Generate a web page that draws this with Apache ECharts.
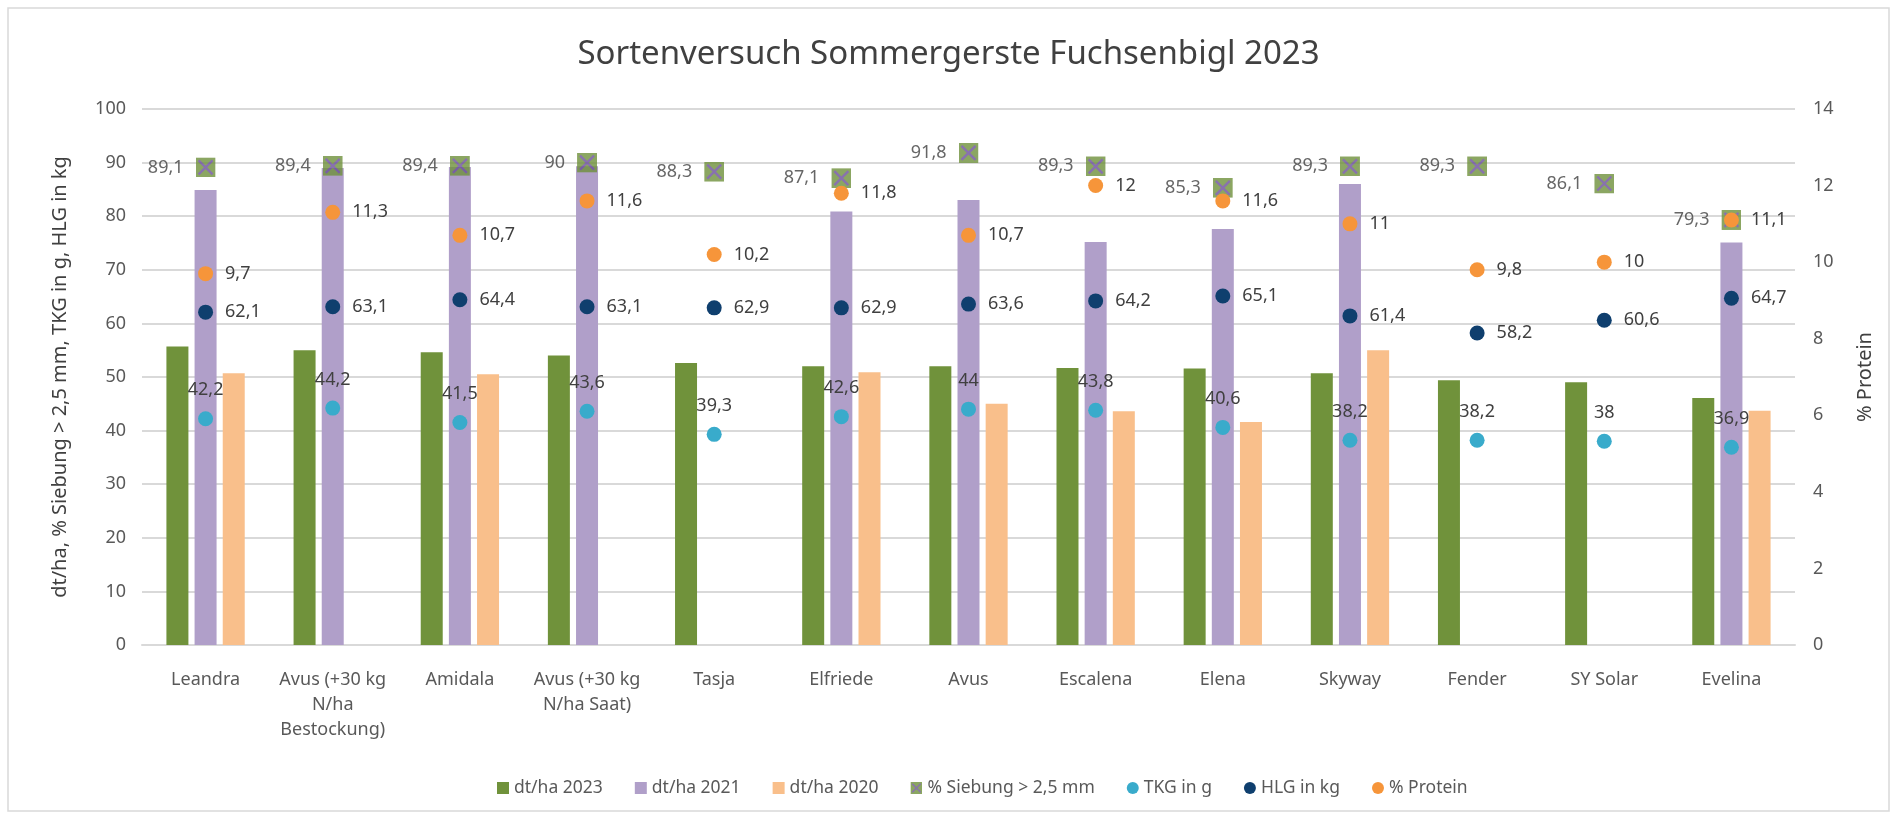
<!DOCTYPE html>
<html>
<head>
    <meta charset="utf-8">
    <title>Sortenversuch Sommergerste Fuchsenbigl 2023</title>
    <script src="https://cdn.jsdelivr.net/npm/echarts@6/dist/echarts.min.js"></script>
    <style>
        html, body { margin: 0; padding: 0; background: #fff; }
        #chart { width: 1897px; height: 819px; }
    </style>
</head>
<body>
<div id="chart"></div>
<script>
    // Sorten
    var sorten = ['Leandra', 'Avus (+30 kg\nN/ha\nBestockung)', 'Amidala', 'Avus (+30 kg\nN/ha Saat)', 'Tasja',
        'Elfriede', 'Avus', 'Escalena', 'Elena', 'Skyway', 'Fender', 'SY Solar', 'Evelina'];
    // Ertrag dt/ha
    var ertrag2023 = [55.7, 55.0, 54.6, 54.0, 52.6, 52.0, 52.0, 51.7, 51.6, 50.7, 49.4, 49.0, 46.1];
    var ertrag2021 = [84.9, 89.0, 89.2, 89.3, null, 80.9, 83.0, 75.2, 77.6, 86.0, null, null, 75.1];
    var ertrag2020 = [50.7, null, 50.5, null, null, 50.9, 45.0, 43.6, 41.6, 55.0, null, null, 43.7];
    // Qualitaet
    var siebung = [89.1, 89.4, 89.4, 90, 88.3, 87.1, 91.8, 89.3, 85.3, 89.3, 89.3, 86.1, 79.3];
    var tkg = [42.2, 44.2, 41.5, 43.6, 39.3, 42.6, 44, 43.8, 40.6, 38.2, 38.2, 38, 36.9];
    var hlg = [62.1, 63.1, 64.4, 63.1, 62.9, 62.9, 63.6, 64.2, 65.1, 61.4, 58.2, 60.6, 64.7];
    var protein = [9.7, 11.3, 10.7, 11.6, 10.2, 11.8, 10.7, 12, 11.6, 11, 9.8, 10, 11.1];

    var FONT = '"Noto Sans", "Open Sans", sans-serif';
    var komma = function (p) {
        return String(p.value).replace('.', ',');
    };
    var labelStyle = function (pos) {
        return {
            show: true, position: pos, distance: 12, formatter: komma,
            color: '#404040', fontSize: 18, fontFamily: FONT
        };
    };

    // Marker: gruenes Quadrat mit lila Kreuz
    var svg = '<svg xmlns="http://www.w3.org/2000/svg" width="20" height="20">' +
        '<rect width="20" height="20" fill="#6f913b"/>' +
        '<path d="M3 3L17 17M17 3L3 17" stroke="#6b4f9a" stroke-width="2.4"/></svg>';
    var siebSymbol = 'image://data:image/svg+xml;charset=utf-8,' + encodeURIComponent(svg);

    var myChart = echarts.init(document.getElementById('chart'));
    var option = {
        backgroundColor: '#fff',
        animation: false,
        textStyle: { fontFamily: FONT },
        title: {
            text: 'Sortenversuch Sommergerste Fuchsenbigl 2023',
            left: 'center',
            top: 33,
            textStyle: { color: '#404040', fontSize: 33, fontWeight: 'normal', fontFamily: FONT }
        },
        graphic: [{
            type: 'rect',
            shape: { x: 8, y: 8, width: 1881, height: 803 },
            style: { fill: 'none', stroke: '#d9d9d9', lineWidth: 1.5 },
            silent: true
        }],
        legend: {
            left: 492,
            top: 774,
            itemWidth: 12,
            itemHeight: 12,
            itemGap: 32,
            textStyle: { color: '#595959', fontSize: 17.5, fontFamily: FONT },
            data: [
                { name: 'dt/ha 2023', icon: 'rect' },
                { name: 'dt/ha 2021', icon: 'rect' },
                { name: 'dt/ha 2020', icon: 'rect' },
                { name: '% Siebung > 2,5 mm', icon: siebSymbol },
                { name: 'TKG in g', icon: 'circle' },
                { name: 'HLG in kg', icon: 'circle' },
                { name: '% Protein', icon: 'circle' }
            ]
        },
        grid: { left: 142, right: 102, top: 109, bottom: 174 },
        xAxis: {
            type: 'category',
            data: sorten,
            axisTick: { show: false },
            axisLine: { lineStyle: { color: '#d9d9d9', width: 2 } },
            axisLabel: {
                color: '#595959', fontSize: 18, lineHeight: 25, margin: 22,
                interval: 0, fontFamily: FONT
            }
        },
        yAxis: [{
            type: 'value',
            min: 0, max: 100, interval: 10,
            name: 'dt/ha, % Siebung > 2,5 mm, TKG in g, HLG in kg',
            nameLocation: 'middle',
            nameGap: 72,
            nameTextStyle: { color: '#404040', fontSize: 20, fontFamily: FONT },
            axisLabel: { color: '#595959', fontSize: 18, margin: 16 },
            axisLine: { show: false },
            axisTick: { show: false },
            splitLine: { lineStyle: { color: '#d9d9d9', width: 2 } }
        }, {
            type: 'value',
            min: 0, max: 14, interval: 2,
            name: '% Protein',
            nameLocation: 'middle',
            nameRotate: 90,
            nameGap: 60,
            nameTextStyle: { color: '#404040', fontSize: 20, fontFamily: FONT },
            axisLabel: { color: '#595959', fontSize: 18, margin: 18 },
            axisLine: { show: false },
            axisTick: { show: false },
            splitLine: { show: false }
        }],
        series: [{
            name: 'dt/ha 2023', type: 'bar', data: ertrag2023,
            barWidth: 22, barGap: '28%',
            itemStyle: { color: '#70923b' }
        }, {
            name: 'dt/ha 2021', type: 'bar', data: ertrag2021,
            barWidth: 22, barGap: '28%',
            itemStyle: { color: '#b09fc9' }
        }, {
            name: 'dt/ha 2020', type: 'bar', data: ertrag2020,
            barWidth: 22, barGap: '28%',
            itemStyle: { color: '#f9bf8b' }
        }, {
            name: '% Siebung > 2,5 mm', type: 'scatter', data: siebung,
            symbol: siebSymbol, symbolSize: 20,
            label: labelStyle('left'), z: 3
        }, {
            name: 'TKG in g', type: 'scatter', data: tkg,
            symbolSize: 15, itemStyle: { color: '#39abcb', opacity: 1 },
            label: labelStyle('top'), z: 4
        }, {
            name: 'HLG in kg', type: 'scatter', data: hlg,
            symbolSize: 15, itemStyle: { color: '#0f3f6e', opacity: 1 },
            label: labelStyle('right'), z: 4
        }, {
            name: '% Protein', type: 'scatter', data: protein, yAxisIndex: 1,
            symbolSize: 15, itemStyle: { color: '#f6953a', opacity: 1 },
            label: labelStyle('right'), z: 5
        }]
    };
    myChart.setOption(option);
</script>
</body>
</html>
